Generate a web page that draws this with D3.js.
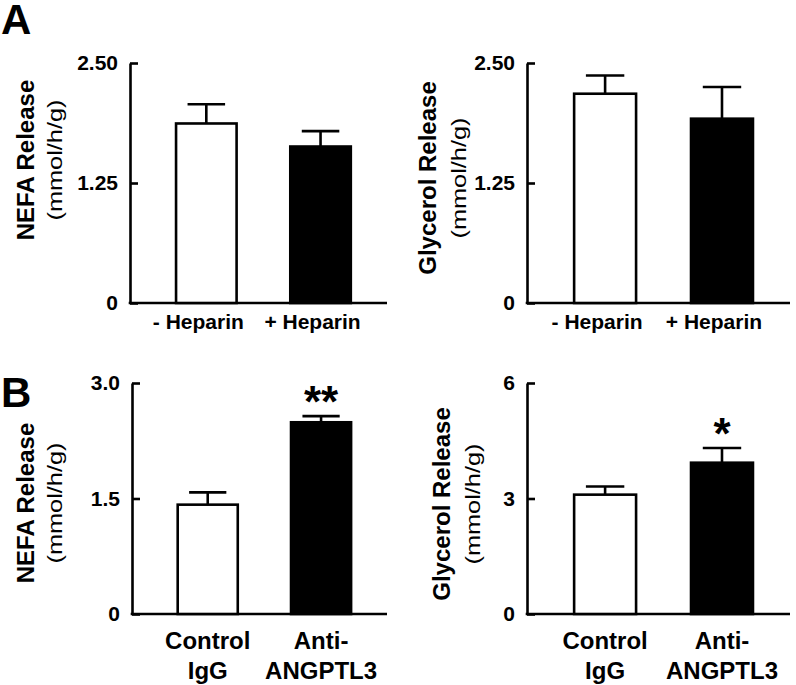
<!DOCTYPE html>
<html>
<head>
<meta charset="utf-8">
<script src="https://cdn.jsdelivr.net/npm/d3@7"></script>
<style>
  body { margin: 0; background: #fff; }
  svg { display: block; font-family: "Liberation Sans", Arial, sans-serif; }
</style>
</head>
<body>
<div id="fig"></div>
<script>
// --------------------------------------------------
// data

var heparinGroups = ["- Heparin", "+ Heparin"];
var antibodyGroups = ["Control IgG", "Anti- ANGPTL3"];
var antibodyLines = [["Control", "IgG"], ["Anti-", "ANGPTL3"]];

var nefaHeparin = [1.87, 1.63];
var nefaHeparinErr = [0.20, 0.16];
var glycerolHeparin = [2.18, 1.92];
var glycerolHeparinErr = [0.19, 0.33];

var nefaAntibody = [1.42, 2.49];
var nefaAntibodyErr = [0.16, 0.08];
var glycerolAntibody = [3.10, 3.93];
var glycerolAntibodyErr = [0.21, 0.38];

var nefaAntibodyStars = ["", "**"];
var glycerolAntibodyStars = ["", "*"];

var ticksA = [0, 1.25, 2.5];
var tickLabelsA = ["0", "1.25", "2.50"];
var ticksNefaB = [0, 1.5, 3.0];
var tickLabelsNefaB = ["0", "1.5", "3.0"];
var ticksGlyB = [0, 3, 6];
var tickLabelsGlyB = ["0", "3", "6"];

var barFills = ["#ffffff", "#000000"];

// --------------------------------------------------
// layout of the four panels

var panels = [
    { x0: 130, x1: 387, top: 63, bottom: 303, groups: heparinGroups, values: nefaHeparin,
      errs: nefaHeparinErr, ticks: ticksA, tickLabels: tickLabelsA, stars: null,
      title: "NEFA Release", lx: 34, ly: 160, ux: 62, labelMode: "one" },
    { x0: 527, x1: 790, top: 63, bottom: 303, groups: heparinGroups, values: glycerolHeparin,
      errs: glycerolHeparinErr, ticks: ticksA, tickLabels: tickLabelsA, stars: null,
      title: "Glycerol Release", lx: 436, ly: 178, ux: 466, labelMode: "one" },
    { x0: 132, x1: 387, top: 383, bottom: 614, groups: antibodyGroups, values: nefaAntibody,
      errs: nefaAntibodyErr, ticks: ticksNefaB, tickLabels: tickLabelsNefaB, stars: nefaAntibodyStars,
      title: "NEFA Release", lx: 34, ly: 503, ux: 62, labelMode: "two" },
    { x0: 527, x1: 790, top: 383, bottom: 614, groups: antibodyGroups, values: glycerolAntibody,
      errs: glycerolAntibodyErr, ticks: ticksGlyB, tickLabels: tickLabelsGlyB, stars: glycerolAntibodyStars,
      title: "Glycerol Release", lx: 450, ly: 504, ux: 480, labelMode: "two" }
];

var svg = d3.select("#fig")
    .append("svg")
    .attr("width", 796)
    .attr("height", 685);

// panel letters
svg.append("text").attr("x", 1).attr("y", 34)
    .attr("font-size", "42px").attr("font-weight", "bold").text("A");
svg.append("text").attr("x", 1).attr("y", 407)
    .attr("font-size", "42px").attr("font-weight", "bold").text("B");

panels.forEach(function(p) {
    var g = svg.append("g");

    var x = d3.scaleBand()
        .domain(p.groups)
        .range([p.x0, p.x1])
        .paddingInner(0.47)
        .paddingOuter(0.36)
        .align(0.56);

    var y = d3.scaleLinear()
        .domain([0, d3.max(p.ticks)])
        .range([p.bottom, p.top]);

    // y axis, ticks point inward
    var yAxisCall = d3.axisLeft(y)
        .tickValues(p.ticks)
        .tickFormat(function(d, i) { return p.tickLabels[i]; })
        .tickSizeInner(-8)
        .tickSizeOuter(0)
        .tickPadding(12);
    var ya = g.append("g")
        .attr("transform", "translate(" + p.x0 + ",0)")
        .call(yAxisCall);
    ya.selectAll("path, line").attr("stroke", "#000").attr("stroke-width", 2.6);
    ya.selectAll("text")
        .attr("font-size", "21px")
        .attr("font-weight", "bold")
        .attr("fill", "#000")
        .attr("font-family", "Liberation Sans, Arial, sans-serif");

    // x axis line
    g.append("line")
        .attr("x1", p.x0 - 1.3).attr("x2", p.x1)
        .attr("y1", y(0)).attr("y2", y(0))
        .attr("stroke", "#000").attr("stroke-width", 2.6);

    var rows = p.groups.map(function(name, i) {
        return { name: name, v: p.values[i], e: p.errs[i], i: i };
    });

    // error bars (upper only)
    var capW = x.bandwidth() * 0.62;
    g.selectAll(".err")
        .data(rows).enter()
        .append("line")
        .attr("x1", function(d) { return x(d.name) + x.bandwidth() / 2; })
        .attr("x2", function(d) { return x(d.name) + x.bandwidth() / 2; })
        .attr("y1", function(d) { return y(d.v); })
        .attr("y2", function(d) { return y(d.v + d.e); })
        .attr("stroke", "#000").attr("stroke-width", 2.6);
    g.selectAll(".cap")
        .data(rows).enter()
        .append("line")
        .attr("x1", function(d) { return x(d.name) + x.bandwidth() / 2 - capW / 2; })
        .attr("x2", function(d) { return x(d.name) + x.bandwidth() / 2 + capW / 2; })
        .attr("y1", function(d) { return y(d.v + d.e); })
        .attr("y2", function(d) { return y(d.v + d.e); })
        .attr("stroke", "#000").attr("stroke-width", 2.6);

    // bars
    g.selectAll("rect")
        .data(rows).enter()
        .append("rect")
        .attr("x", function(d) { return x(d.name); })
        .attr("y", function(d) { return y(d.v); })
        .attr("width", x.bandwidth())
        .attr("height", function(d) { return y(0) - y(d.v); })
        .attr("fill", function(d) { return barFills[d.i]; })
        .attr("stroke", "#000")
        .attr("stroke-width", 2.6);

    // significance stars
    if (p.stars) {
        g.selectAll(".star")
            .data(rows).enter()
            .append("text")
            .attr("x", function(d) { return x(d.name) + x.bandwidth() / 2; })
            .attr("y", function(d) { return y(d.v + d.e) + 1; })
            .attr("text-anchor", "middle")
            .attr("font-size", "44px")
            .attr("font-weight", "bold")
            .text(function(d) { return p.stars[d.i]; });
    }

    // category labels
    if (p.labelMode === "one") {
        g.selectAll(".cat")
            .data(rows).enter()
            .append("text")
            .attr("x", function(d) { return x(d.name) + x.bandwidth() / 2 - 8; })
            .attr("y", p.bottom + 26)
            .attr("text-anchor", "middle")
            .attr("font-size", "21px")
            .attr("font-weight", "bold")
            .text(function(d) { return d.name; });
    } else {
        rows.forEach(function(d) {
            var t = g.append("text")
                .attr("text-anchor", "middle")
                .attr("font-size", "24px")
                .attr("font-weight", "bold");
            antibodyLines[d.i].forEach(function(line, k) {
                t.append("tspan")
                    .attr("x", x(d.name) + x.bandwidth() / 2)
                    .attr("y", p.bottom + 35 + k * 30)
                    .text(line);
            });
        });
    }

    // y label
    g.append("text")
        .attr("transform", "translate(" + p.lx + "," + p.ly + ") rotate(-90)")
        .attr("text-anchor", "middle")
        .attr("font-size", "24px")
        .attr("font-weight", "bold")
        .text(p.title);
    g.append("text")
        .attr("transform", "translate(" + p.ux + "," + p.ly + ") rotate(-90)")
        .attr("text-anchor", "middle")
        .attr("font-size", "21px")
        .attr("textLength", 121)
        .attr("lengthAdjust", "spacingAndGlyphs")
        .text("(mmol/h/g)");
});
</script>
</body>
</html>
